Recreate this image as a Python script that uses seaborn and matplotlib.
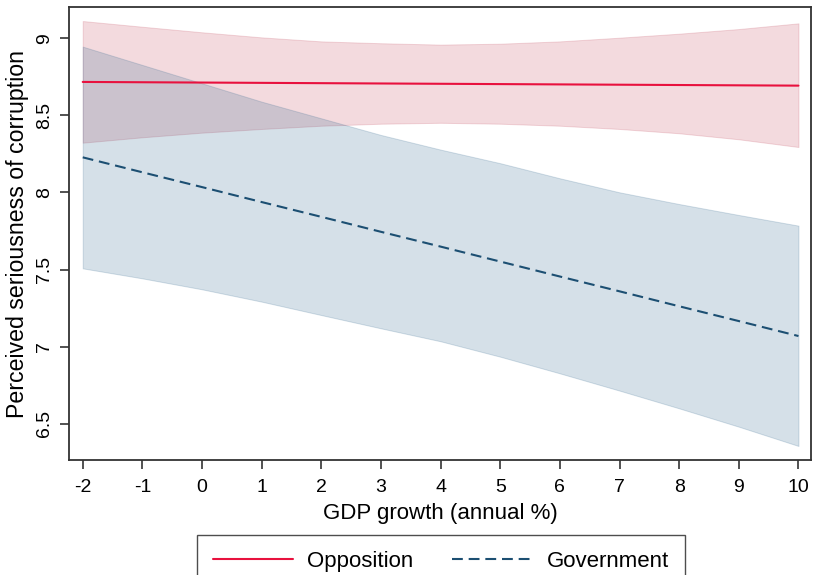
import numpy as np
import pandas as pd
import matplotlib
matplotlib.use("Agg")
import matplotlib.pyplot as plt
import seaborn as sns
from matplotlib.lines import Line2D

gdp = [-2, -1, 0, 1, 2, 3, 4, 5, 6, 7, 8, 9, 10]

opp_mean = [8.717, 8.715, 8.713, 8.711, 8.709, 8.707, 8.705, 8.703, 8.701, 8.699, 8.697, 8.695, 8.693]
opp_upper = [9.112, 9.075, 9.039, 9.006, 8.980, 8.968, 8.959, 8.965, 8.980, 9.004, 9.030, 9.060, 9.097]
opp_lower = [8.323, 8.358, 8.388, 8.412, 8.433, 8.446, 8.452, 8.446, 8.433, 8.412, 8.384, 8.345, 8.295]

gov_mean = [8.228, 8.131, 8.035, 7.938, 7.842, 7.745, 7.649, 7.552, 7.455, 7.359, 7.262, 7.166, 7.069]
gov_upper = [8.946, 8.827, 8.708, 8.589, 8.481, 8.373, 8.278, 8.190, 8.092, 8.001, 7.925, 7.854, 7.785]
gov_lower = [7.508, 7.443, 7.372, 7.292, 7.205, 7.119, 7.035, 6.935, 6.827, 6.715, 6.600, 6.481, 6.356]

groups = ["Opposition", "Government"]
x_ticks = [-2, -1, 0, 1, 2, 3, 4, 5, 6, 7, 8, 9, 10]
y_ticks = [6.5, 7, 7.5, 8, 8.5, 9]
y_tick_labels = ["6.5", "7", "7.5", "8", "8.5", "9"]

df = pd.DataFrame({
    "gdp": gdp + gdp,
    "value": opp_mean + gov_mean,
    "group": [groups[0]] * len(gdp) + [groups[1]] * len(gdp),
})

sns.set_theme(style="white")
plt.rcParams["font.family"] = ["Liberation Sans", "DejaVu Sans"]
plt.rcParams["text.color"] = "black"
plt.rcParams["axes.labelcolor"] = "black"
plt.rcParams["xtick.color"] = "black"
plt.rcParams["ytick.color"] = "black"

line_colors = {"Opposition": "#e8113e", "Government": "#1c4f72"}
band_colors = {"Opposition": (195/255, 70/255, 90/255), "Government": (45/255, 100/255, 140/255)}

fig = plt.figure(figsize=(8.13, 5.75), dpi=100)
ax = fig.add_axes([69/813, 1 - 460/575, (811 - 69)/813, (460 - 7)/575])

ax.fill_between(gdp, opp_lower, opp_upper, color=band_colors["Opposition"], alpha=0.2,
                edgecolor=(195/255, 70/255, 90/255, 0.2), linewidth=0.7, zorder=1)
ax.fill_between(gdp, gov_lower, gov_upper, color=band_colors["Government"], alpha=0.2,
                edgecolor=(45/255, 100/255, 140/255, 0.2), linewidth=0.7, zorder=1)

sns.lineplot(data=df, x="gdp", y="value", hue="group", style="group",
             palette=line_colors,
             dashes={"Opposition": "", "Government": (5.2, 2.8)},
             linewidth=1.5, ax=ax, legend=False, zorder=3)

ax.set_xlim(-2.23, 10.21)
ax.set_ylim(6.265, 9.203)
ax.set_xticks(x_ticks)
ax.set_xticklabels([str(v) for v in x_ticks])
ax.set_yticks(y_ticks)
ax.set_yticklabels(y_tick_labels, rotation=90, va="center")

ax.tick_params(axis="both", direction="out", length=6.5, width=1.2, color="#333333",
               labelsize=14, bottom=True, left=True)
ax.tick_params(axis="x", pad=7)
ax.tick_params(axis="y", pad=5)
for s in ax.spines.values():
    s.set_color("#333333")
    s.set_linewidth(1.3)

ax.set_xlabel("GDP growth (annual %)", fontsize=16, labelpad=5)
ax.set_ylabel("Perceived seriousness of corruption", fontsize=16.7, labelpad=5)

handles = [
    Line2D([], [], color=line_colors["Opposition"], lw=1.5),
    Line2D([], [], color=line_colors["Government"], lw=1.5, dashes=(5.2, 2.8)),
]
leg = fig.legend(handles, groups, loc="upper center", bbox_to_anchor=(441/813, 1 - 535/575),
                 ncol=2, frameon=True, fancybox=False, edgecolor="#222222", fontsize=16,
                 handlelength=3.6, handletextpad=0.65, columnspacing=1.75, borderpad=0.7,
                 borderaxespad=0)
leg.get_frame().set_linewidth(1.0)

fig.savefig("out.png", dpi=100)
